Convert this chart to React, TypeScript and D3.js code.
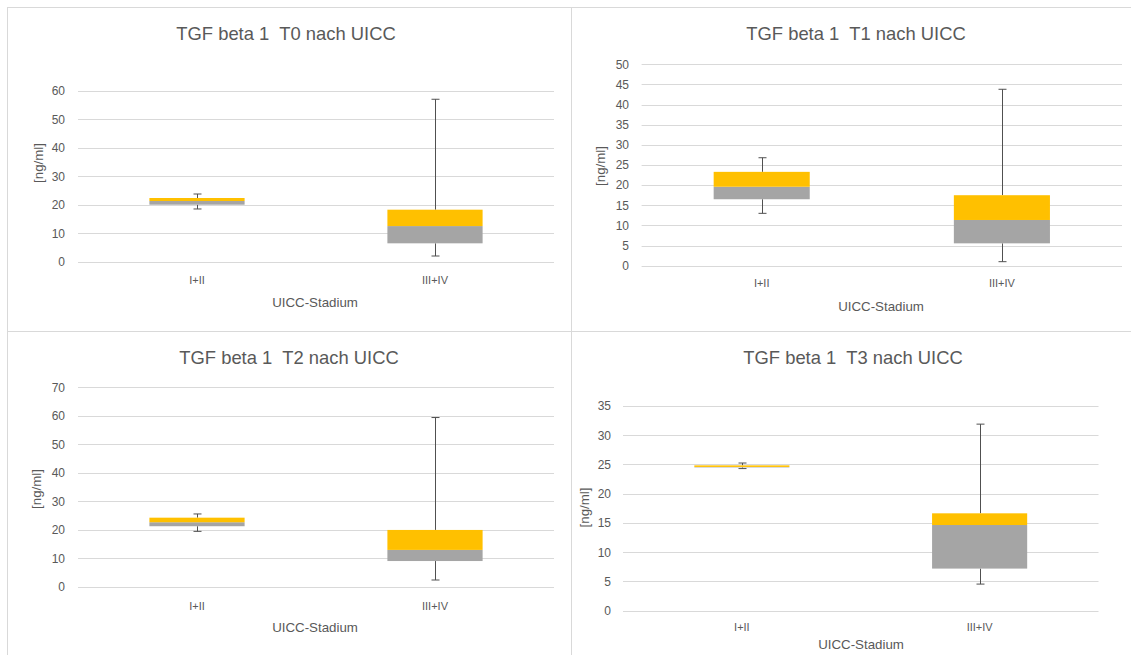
import React from "react";
import * as d3 from "d3";

const categories = ["I+II", "III+IV"];
const panelTitles = [
  "TGF beta 1  T0 nach UICC",
  "TGF beta 1  T1 nach UICC",
  "TGF beta 1  T2 nach UICC",
  "TGF beta 1  T3 nach UICC",
];
// per panel, per category: [min, q1, median, q3, max]
const t0Stats = [
  [18.5, 20.0, 21.3, 22.35, 23.75],
  [2.0, 6.45, 12.5, 18.25, 57.0],
];
const t1Stats = [
  [13.0, 16.5, 19.6, 23.3, 26.8],
  [1.0, 5.55, 11.35, 17.5, 43.8],
];
const t2Stats = [
  [19.5, 21.3, 22.7, 24.3, 25.6],
  [2.45, 9.1, 13.0, 20.0, 59.4],
];
const t3Stats = [
  [24.3, 24.5, 24.58, 24.85, 25.25],
  [4.55, 7.2, 14.65, 16.65, 31.9],
];
const yMax = [60, 50, 70, 35];
const yStep = [10, 5, 10, 5];
const xAxisTitle = "UICC-Stadium";
const yAxisTitle = "[ng/ml]";

const allStats = [t0Stats, t1Stats, t2Stats, t3Stats];

// layout per panel
const layouts = [
  { left: 78, right: 554, y0: 261.7, yTop: 90.7, titleX: 286, titleY: 39.5, tickX: 65, catY: 284, axY: 306.5, axX: 315, ytX: 38, ytY: 163 },
  { left: 641.6, right: 1122, y0: 265.7, yTop: 64.3, titleX: 856, titleY: 39.5, tickX: 629, catY: 287, axY: 310.5, axX: 881, ytX: 600, ytY: 166 },
  { left: 78, right: 554, y0: 587, yTop: 387.3, titleX: 289, titleY: 363.5, tickX: 65, catY: 610, axY: 631.5, axX: 315, ytX: 36, ytY: 489 },
  { left: 623, right: 1098.5, y0: 610.7, yTop: 406, titleX: 853, titleY: 363.5, tickX: 611, catY: 630.7, axY: 649, axX: 861, ytX: 584, ytY: 507.5 },
];

const FONT = "'Liberation Sans', Arial, sans-serif";
const TEXT = "#595959";
const GRID = "#D9D9D9";
const GRAY = "#A5A5A5";
const GOLD = "#FFC000";
const WHISK = "#505050";

function Panel({ idx }: { idx: number }) {
  const L = layouts[idx];
  const stats = allStats[idx];
  const y = d3.scaleLinear().domain([0, yMax[idx]]).range([L.y0, L.yTop]);
  const x = d3.scaleBand<string>().domain(categories).range([L.left, L.right]).padding(0);
  const ticks = d3.range(0, yMax[idx] + 0.001, yStep[idx]);
  const bw = x.bandwidth() * 0.4;
  return (
    <g>
      <text
        x={L.titleX}
        y={L.titleY}
        textAnchor="middle"
        fontFamily={FONT}
        fontSize={18.4}
        fill={TEXT}
        style={{ whiteSpace: "pre" }}
        xmlSpace="preserve"
      >
        {panelTitles[idx]}
      </text>
      {ticks.map((t) => (
        <g key={t}>
          <line x1={L.left} x2={L.right} y1={Math.round(y(t)) + 0.5} y2={Math.round(y(t)) + 0.5} stroke={GRID} strokeWidth={1} />
          <text x={L.tickX} y={y(t)} dy="0.36em" textAnchor="end" fontFamily={FONT} fontSize={12} fill={TEXT}>
            {t}
          </text>
        </g>
      ))}
      {categories.map((c, i) => {
        const [mn, q1, md, q3, mx] = stats[i];
        const cx = (x(c) as number) + x.bandwidth() / 2;
        const wx = Math.round(cx) + 0.5;
        return (
          <g key={c}>
            <line x1={wx} x2={wx} y1={y(q3)} y2={y(mx)} stroke={WHISK} strokeWidth={1} />
            <line x1={wx - 4} x2={wx + 4} y1={y(mx)} y2={y(mx)} stroke={WHISK} strokeWidth={1} />
            <line x1={wx} x2={wx} y1={y(q1)} y2={y(mn)} stroke={WHISK} strokeWidth={1} />
            <line x1={wx - 4} x2={wx + 4} y1={y(mn)} y2={y(mn)} stroke={WHISK} strokeWidth={1} />
            <rect x={cx - bw / 2} width={bw} y={y(md)} height={y(q1) - y(md)} fill={GRAY} />
            <rect x={cx - bw / 2} width={bw} y={y(q3)} height={y(md) - y(q3)} fill={GOLD} />
            <text x={cx} y={L.catY} textAnchor="middle" fontFamily={FONT} fontSize={11} fill={TEXT}>
              {c}
            </text>
          </g>
        );
      })}
      <text x={L.axX} y={L.axY} textAnchor="middle" fontFamily={FONT} fontSize={13.3} fill={TEXT}>
        {xAxisTitle}
      </text>
      <text
        transform={`translate(${L.ytX},${L.ytY}) rotate(-90)`}
        textAnchor="middle"
        dy="0.35em"
        fontFamily={FONT}
        fontSize={13.3}
        fill={TEXT}
      >
        {yAxisTitle}
      </text>
    </g>
  );
}

export default function App() {
  return (
    <svg
      width={1131}
      height={655}
      style={{ position: "absolute", left: 0, top: 0, background: "#fff" }}
    >
      <rect x={0} y={0} width={1131} height={655} fill="#fff" />
      <rect x={7.5} y={7.5} width={564} height={324} fill="none" stroke="#D9D9D9" />
      <rect x={571.5} y={7.5} width={600} height={324} fill="none" stroke="#D9D9D9" />
      <rect x={7.5} y={331.5} width={564} height={400} fill="none" stroke="#D9D9D9" />
      <rect x={571.5} y={331.5} width={600} height={400} fill="none" stroke="#D9D9D9" />
      {[0, 1, 2, 3].map((i) => (
        <Panel key={i} idx={i} />
      ))}
    </svg>
  );
}
